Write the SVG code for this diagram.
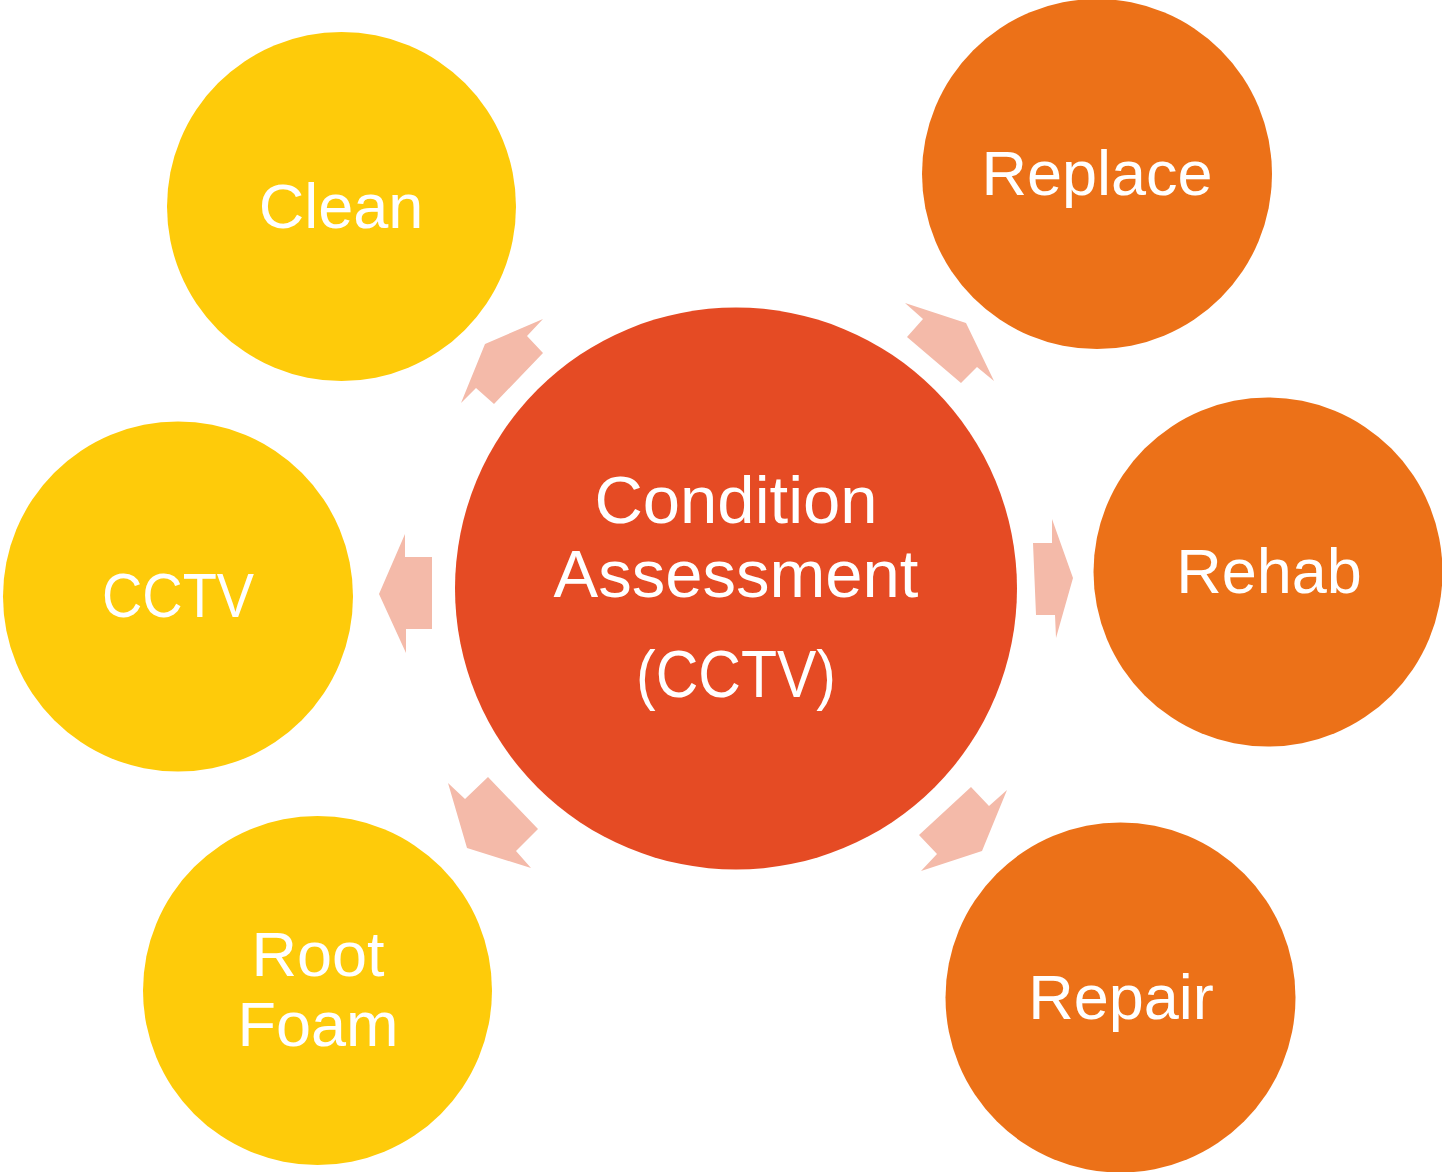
<svg xmlns="http://www.w3.org/2000/svg" width="1442" height="1172" viewBox="0 0 1442 1172">
<style>
.y{fill:#FECB0A}.o{fill:#EC7118}.r{fill:#E54B24}
.t{fill:#fff;font-family:"Liberation Sans",Arial,sans-serif;font-size:63px;text-anchor:middle}
.tc{font-size:67px}
.a{fill:#F4BAA9}
</style>
<rect width="1442" height="1172" fill="#fff"/>
<g id="connectors">
<polygon class="a" points="543,319 527,336 543,353 494,404 476,388 461,403 485,344"/>
<polygon class="a" points="905,303 923,319 907,337 961,383 977,367 994,381 966,323"/>
<polygon class="a" points="405,534 405,557 432,557 432,629 406,629 406,653 379,594"/>
<polygon class="a" points="1033,543 1052,543 1052,519 1073,578 1056,638 1055,615 1036,615"/>
<polygon class="a" points="448,783 465,799 488,777 538,829 516,851 531,868 467,848"/>
<polygon class="a" points="1007,790 989,806 971,787 919,835 937,854 921,871 982,851"/>
</g>
<g id="center"><circle class="r" cx="736" cy="588.5" r="281"/>
<text class="t tc" x="736" y="523">Condition</text>
<text class="t tc" x="736" y="597">Assessment</text>
<text class="t tc" x="736" y="697" textLength="200" lengthAdjust="spacingAndGlyphs">(CCTV)</text></g>
<g id="clean"><circle class="y" cx="341.5" cy="206.5" r="174.5"/><text class="t" x="341" y="228">Clean</text></g>
<g id="cctv"><circle class="y" cx="178" cy="596.5" r="175"/><text class="t" x="178" y="617" textLength="152" lengthAdjust="spacingAndGlyphs">CCTV</text></g>
<g id="rootfoam"><circle class="y" cx="317.5" cy="990.5" r="174.5"/><text class="t" x="318" y="976">Root</text><text class="t" x="318" y="1046">Foam</text></g>
<g id="replace"><circle class="o" cx="1097" cy="174" r="175"/><text class="t" x="1097" y="195">Replace</text></g>
<g id="rehab"><circle class="o" cx="1268" cy="572" r="174.5"/><text class="t" x="1269" y="593">Rehab</text></g>
<g id="repair"><circle class="o" cx="1120.5" cy="997.5" r="175"/><text class="t" x="1121" y="1019">Repair</text></g>
</svg>
